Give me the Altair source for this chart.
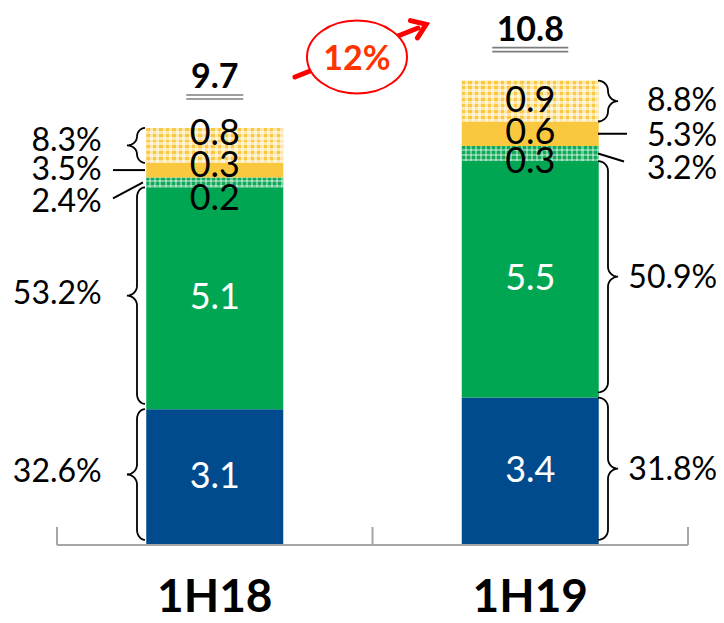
import altair as alt
import pandas as pd
import numpy as np

# ---------------- data ----------------
periods = ["1H18", "1H19"]
segments = ["Segment A", "Segment B", "Segment C", "Segment D", "Segment E"]
values_1h18 = [3.16, 5.16, 0.23, 0.34, 0.81]
values_1h19 = [3.43, 5.50, 0.35, 0.57, 0.95]
labels_1h18 = ["3.1", "5.1", "0.2", "0.3", "0.8"]
labels_1h19 = ["3.4", "5.5", "0.3", "0.6", "0.9"]
shares_1h18 = ["32.6%", "53.2%", "2.4%", "3.5%", "8.3%"]
shares_1h19 = ["31.8%", "50.9%", "3.2%", "5.3%", "8.8%"]
totals = ["9.7", "10.8"]
growth = "12%"

# ---------------- style / layout ----------------
FONT = "Lato"
W, H = 708, 607
Y_DOMAIN = [0, 12.49]
Y_RANGE = [537, 0]
K = (Y_RANGE[0] - Y_RANGE[1]) / (Y_DOMAIN[1] - Y_DOMAIN[0])  # px per unit
X_RANGE = [49, 680]
BAR_W = 137
seg_colors = ["#004B8D", "#00A651", "#10AA58", "#FAC83E", "#FAC943"]
light_text = {"Segment A", "Segment B"}
LABEL_DY = {("1H18", "Segment C"): 17, ("1H18", "Segment D"): -4, ("1H18", "Segment E"): -11,
            ("1H19", "Segment C"): 8, ("1H19", "Segment D"): -1}
SHARE_DY = {("1H18", "Segment A"): -5, ("1H18", "Segment B"): -4, ("1H18", "Segment C"): 20,
            ("1H18", "Segment D"): 0, ("1H18", "Segment E"): -4,
            ("1H19", "Segment A"): -1, ("1H19", "Segment B"): -1, ("1H19", "Segment C"): 15,
            ("1H19", "Segment D"): 2, ("1H19", "Segment E"): 0}
BRACE_X = {"1H18": (137, 129, 119), "1H19": (590, 600, 610)}
BRACED = ["Segment A", "Segment B", "Segment E"]
# texture (stripe counts across / down each patterned bar, duty, alpha)
TEXTURE = {
    ("1H18", "Segment E"): (21, 6, 0.5, 0.55),
    ("1H19", "Segment E"): (21, 7, 0.5, 0.55),
    ("1H18", "Segment C"): (27, 2, 0.4, 0.4),
    ("1H19", "Segment C"): (27, 3, 0.4, 0.4),
}

rows = []
for p, vals, labs, shs in [(periods[0], values_1h18, labels_1h18, shares_1h18),
                           (periods[1], values_1h19, labels_1h19, shares_1h19)]:
    cum = 0.0
    for i, (s, v, l, sh) in enumerate(zip(segments, vals, labs, shs)):
        rows.append(dict(period=p, segment=s, order=i, value=v, label=l, share=sh,
                         start=cum, end=cum + v, mid=cum + v / 2))
        cum += v
df = pd.DataFrame(rows)
df["label_y"] = [m - LABEL_DY.get((p, s), 0) / K for p, s, m in zip(df.period, df.segment, df.mid)]
df["share_y"] = [m - SHARE_DY.get((p, s), 0) / K for p, s, m in zip(df.period, df.segment, df.mid)]
df["label_color"] = ["white" if s in light_text else "black" for s in df.segment]

tot = df.groupby("period", as_index=False)["end"].max().rename(columns={"end": "top"})
tot["total"] = totals
tot["ulw"] = [19 * len(t) for t in totals]


def brace(x_end, x_spine, x_tip, y_top, y_bot, r):
    th = np.linspace(0, np.pi / 2, 8)
    ym = (y_top + y_bot) / 2
    pts = []
    pts += [(x_end - (x_end - x_spine) * np.sin(t), y_top - r + r * np.cos(t)) for t in th]
    pts += [(x_tip + (x_spine - x_tip) * np.cos(t), ym + r - r * np.sin(t)) for t in th]
    pts += [(x_tip + (x_spine - x_tip) * np.sin(t), ym - r + r * np.cos(t)) for t in th]
    pts += [(x_end - (x_end - x_spine) * np.cos(t), y_bot + r - r * np.sin(t)) for t in th]
    return pts


brows = []
for _, r in df[df.segment.isin(BRACED)].iterrows():
    xe, xs, xt = BRACE_X[r.period]
    inset = 0.0 if r.segment == "Segment E" else 0.12
    yt, yb = r.end, r.start + inset
    rad = min(0.23, (yt - yb) / 4)
    for j, (xp, yp) in enumerate(brace(xe, xs, xt, yt, yb, rad)):
        brows.append(dict(brace=f"{r.period}-{r.segment}", k=j, xp=xp, y=yp))
bdf = pd.DataFrame(brows)


def mid_of(p, s):
    return float(df[(df.period == p) & (df.segment == s)].mid.iloc[0])


cdf = pd.DataFrame([
    dict(x1=137, x2=105, y1=mid_of("1H18", "Segment D"), y2=mid_of("1H18", "Segment D")),
    dict(x1=135, x2=105, y1=mid_of("1H18", "Segment C"), y2=mid_of("1H18", "Segment C") - 16 / K),
    dict(x1=590, x2=619, y1=mid_of("1H19", "Segment D"), y2=mid_of("1H19", "Segment D")),
    dict(x1=590, x2=616, y1=mid_of("1H19", "Segment C"), y2=mid_of("1H19", "Segment C") - 8 / K),
])

pdf = pd.DataFrame({"period": periods})
gdf = pd.DataFrame({"growth": [growth]})

xscale = alt.Scale(domain=periods, range=X_RANGE, paddingInner=0, paddingOuter=0)
yscale = alt.Scale(domain=Y_DOMAIN, range=Y_RANGE, nice=False, zero=False)
pxs = alt.Scale(domain=[0, W], range=[0, W], nice=False, zero=False)
X = alt.X("period:N", scale=xscale, axis=None)

bars = alt.Chart(df).mark_bar(width=BAR_W).encode(
    x=X,
    y=alt.Y("start:Q", scale=yscale, axis=None),
    y2="end:Q",
    color=alt.Color("segment:N", scale=alt.Scale(domain=segments, range=seg_colors), legend=None),
)


def stripes(n, alpha, duty, vertical):
    clear = "rgba(255,255,255,0)"
    white = f"rgba(255,255,255,{alpha})"
    stops = []
    for i in range(n):
        a, b, c = i / n, (i + 1 - duty) / n, (i + 1) / n
        stops += [alt.GradientStop(color=clear, offset=a), alt.GradientStop(color=clear, offset=b),
                  alt.GradientStop(color=white, offset=b), alt.GradientStop(color=white, offset=c)]
    if vertical:
        return alt.Gradient(gradient="linear", stops=stops, x1=0, x2=1, y1=0, y2=0)
    return alt.Gradient(gradient="linear", stops=stops, x1=0, x2=0, y1=0, y2=1)


texture_layers = []
for (p, s), (nx, ny, duty, alpha) in TEXTURE.items():
    sub = df[(df.period == p) & (df.segment == s)]
    for vert, n in [(True, nx), (False, ny)]:
        texture_layers.append(
            alt.Chart(sub).mark_bar(width=BAR_W, fill=stripes(n, alpha, duty, vert), strokeWidth=0).encode(
                x=X, y=alt.Y("start:Q", scale=yscale, axis=None), y2="end:Q"
            )
        )

seg_labels = alt.Chart(df).mark_text(font=FONT, fontSize=36, baseline="middle").encode(
    x=X, y=alt.Y("label_y:Q", scale=yscale, axis=None), text="label:N",
    color=alt.Color("label_color:N", scale=None),
)

share_left = alt.Chart(df[df.period == periods[0]]).mark_text(
    font=FONT, fontSize=32, baseline="middle", align="right", dx=-113, color="black"
).encode(x=X, y=alt.Y("share_y:Q", scale=yscale, axis=None), text="share:N")

share_right = alt.Chart(df[df.period == periods[1]]).mark_text(
    font=FONT, fontSize=32, baseline="middle", align="right", dx=187, color="black"
).encode(x=X, y=alt.Y("share_y:Q", scale=yscale, axis=None), text="share:N")

braces = alt.Chart(bdf).mark_line(color="black", strokeWidth=1.8).encode(
    x=alt.X("xp:Q", scale=pxs, axis=None),
    y=alt.Y("y:Q", scale=yscale, axis=None),
    detail="brace:N", order="k:Q",
)

connectors = alt.Chart(cdf).mark_rule(color="black", strokeWidth=2).encode(
    x=alt.X("x1:Q", scale=pxs, axis=None), x2="x2:Q",
    y=alt.Y("y1:Q", scale=yscale, axis=None), y2="y2:Q",
)

axis_line = alt.Chart(pdf).mark_rule(color="#A6A6A6", strokeWidth=2).encode(
    x=alt.value(X_RANGE[0]), x2=alt.value(X_RANGE[1]), y=alt.value(Y_RANGE[0])
)
axis_ticks = alt.Chart(pdf).mark_rule(color="#A6A6A6", strokeWidth=2).encode(
    x=alt.X("period:N", scale=xscale, axis=None, bandPosition=0),
    y=alt.value(Y_RANGE[0] - 18), y2=alt.value(Y_RANGE[0]),
)
axis_tick_end = alt.Chart(pdf[pdf.period == periods[-1]]).mark_rule(color="#A6A6A6", strokeWidth=2).encode(
    x=alt.X("period:N", scale=xscale, axis=None, bandPosition=1),
    y=alt.value(Y_RANGE[0] - 18), y2=alt.value(Y_RANGE[0]),
)

cat_labels = alt.Chart(pdf).mark_text(font=FONT, fontSize=46, fontWeight="bold", baseline="alphabetic", color="black").encode(
    x=X, y=alt.value(604), text="period:N"
)

total_text = alt.Chart(tot).mark_text(font=FONT, fontSize=34, fontWeight="bold", baseline="middle", dy=-50, color="black").encode(
    x=X, y=alt.Y("top:Q", scale=yscale, axis=None), text="total:N"
)
ul1 = alt.Chart(tot).mark_tick(thickness=1.6, color="#444444", yOffset=-33).encode(
    x=X, y=alt.Y("top:Q", scale=yscale, axis=None), size=alt.Size("ulw:Q", scale=None)
)
ul2 = alt.Chart(tot).mark_tick(thickness=1.6, color="#444444", yOffset=-29).encode(
    x=X, y=alt.Y("top:Q", scale=yscale, axis=None), size=alt.Size("ulw:Q", scale=None)
)

arrow_line = alt.Chart(gdf).mark_rule(color="#FF0000", strokeWidth=5, strokeCap="round").encode(
    x=alt.value(287), y=alt.value(69), x2=alt.value(410), y2=alt.value(20)
)
arrow_head = alt.Chart(gdf).mark_point(
    shape="M-0.3,-0.85L0.9,0L-0.3,0.85", size=484, filled=False, color="#FF0000",
    strokeWidth=5, angle=338, opacity=1, strokeCap="round", strokeJoin="miter"
).encode(x=alt.value(409), y=alt.value(20))
ellipse = alt.Chart(gdf).mark_point(
    shape="M-1,0A1,0.73,0,1,1,1,0A1,0.73,0,1,1,-1,0Z", size=10000, filled=True,
    fill="white", stroke="#FF0000", strokeWidth=2, opacity=1, fillOpacity=1, strokeOpacity=1
).encode(x=alt.value(349), y=alt.value(49))
growth_text = alt.Chart(gdf).mark_text(font=FONT, fontSize=34, fontWeight="bold", color="#FF3300", baseline="middle").encode(
    x=alt.value(349), y=alt.value(52), text="growth:N"
)

chart = alt.layer(
    bars, *texture_layers, seg_labels, share_left, share_right, braces, connectors,
    axis_line, axis_ticks, axis_tick_end, cat_labels,
    total_text, ul1, ul2, arrow_line, arrow_head, ellipse, growth_text,
).resolve_scale(x="independent").properties(
    width=W, height=H, autosize=alt.AutoSizeParams(type="none"), padding=0
).configure_view(stroke=None)

chart.save("out.html", embed_options={"renderer": "svg", "actions": False})
